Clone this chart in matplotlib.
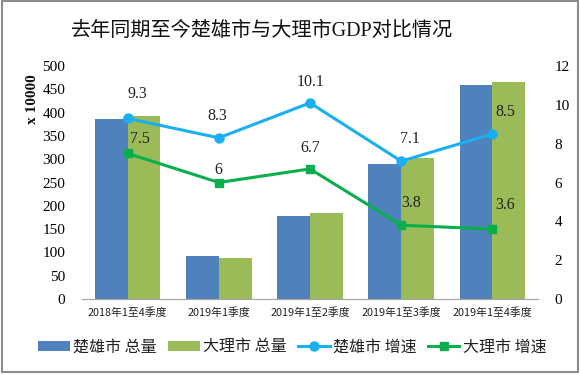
import matplotlib
matplotlib.use("Agg")
import matplotlib.pyplot as plt
import numpy as np
from matplotlib.patches import Rectangle

categories = ["2018年1至4季度", "2019年1季度", "2019年1至2季度", "2019年1至3季度", "2019年1至4季度"]
chuxiong_total = [386, 92, 178, 290, 459]
dali_total = [393, 88, 185, 302, 466]
chuxiong_growth = [9.3, 8.3, 10.1, 7.1, 8.5]
dali_growth = [7.5, 6, 6.7, 3.8, 3.6]
left_ticks = list(range(0, 501, 50))
right_ticks = list(range(0, 13, 2))

series_names = ["楚雄市 总量", "大理市 总量", "楚雄市 增速", "大理市 增速"]

# label offsets in pixels (style)
blue_off = [(10, 24), (-2, 22), (1, 21), (9, 22), (13, 22)]
green_off = [(12, 14), (0, 12), (0, 21), (10, 22), (13, 24)]

cjk = ["Noto Sans CJK SC", "DejaVu Sans"]
serif = ["Liberation Serif", "Noto Sans CJK SC"]

fig = plt.figure(figsize=(5.8, 3.74), dpi=100)
fig.patches.append(Rectangle((0.004, 0.006), 0.992, 0.99, transform=fig.transFigure,
                             fill=False, edgecolor="#8c8c8c", linewidth=1.5))

ax = fig.add_axes([82/580, 1-299/374, (538-82)/580, (299-66)/374])
ax2 = ax.twinx()

x = np.arange(len(categories))
w = 0.36
b1 = ax.bar(x - w/2, chuxiong_total, w, color="#4F81BD", label=series_names[0], zorder=2)
b2 = ax.bar(x + w/2, dali_total, w, color="#9BBB59", label=series_names[1], zorder=2)
ax.set_ylim(0, 500)
ax.set_xlim(-0.5, len(categories) - 0.5)
ax.set_yticks(left_ticks)
ax.set_xticks(x)
ax.set_xticklabels(categories, fontfamily=cjk, fontsize=7.8, color="#222222")
for lab in ax.get_yticklabels():
    lab.set_fontfamily(serif)
    lab.set_fontsize(11)
ax.tick_params(axis="y", length=0, pad=12)
ax.tick_params(axis="x", length=0, pad=6)

l1, = ax2.plot(x, chuxiong_growth, color="#1AAFEF", linewidth=2.2, marker="o",
               markersize=6.5, label=series_names[2], zorder=3)
l2, = ax2.plot(x, dali_growth, color="#0AAE4C", linewidth=2.2, marker="s",
               markersize=6, label=series_names[3], zorder=3)
ax2.set_ylim(0, 12)
ax2.set_yticks(right_ticks)
for lab in ax2.get_yticklabels():
    lab.set_fontfamily(serif)
    lab.set_fontsize(11)
ax2.tick_params(axis="y", length=0, pad=12)

for a in (ax, ax2):
    for s in ("top", "left", "right"):
        a.spines[s].set_visible(False)
    a.spines["bottom"].set_color("#a6a6a6")

for xi, v, off in zip(x, chuxiong_growth, blue_off):
    ax2.annotate(f"{v:g}", (xi, v), xytext=off, textcoords="offset pixels",
                 ha="center", va="center", fontfamily=serif, fontsize=11.5, color="#222222")
for xi, v, off in zip(x, dali_growth, green_off):
    ax2.annotate(f"{v:g}", (xi, v), xytext=off, textcoords="offset pixels",
                 ha="center", va="center", fontfamily=serif, fontsize=11.5, color="#222222")

fig.text(262/580, 1-31/374, "去年同期至今楚雄市与大理市GDP对比情况", ha="center", va="center",
         fontfamily=serif, fontsize=14.5, color="#111111")
fig.text(32/580, 1-99/374, "x 10000", rotation=90, ha="center", va="center",
         fontfamily=serif, fontsize=11, fontweight="bold", color="#111111")

leg = fig.legend([b1, b2, l1, l2], series_names, loc="center", bbox_to_anchor=(292/580, 1-347/374),
                 ncol=4, frameon=False, prop={"family": cjk, "size": 11.5},
                 handlelength=2.0, handletextpad=0.2, columnspacing=0.7, handleheight=0.55)
for t in leg.get_texts():
    t.set_color("#222222")

fig.savefig("out.png", dpi=100)
